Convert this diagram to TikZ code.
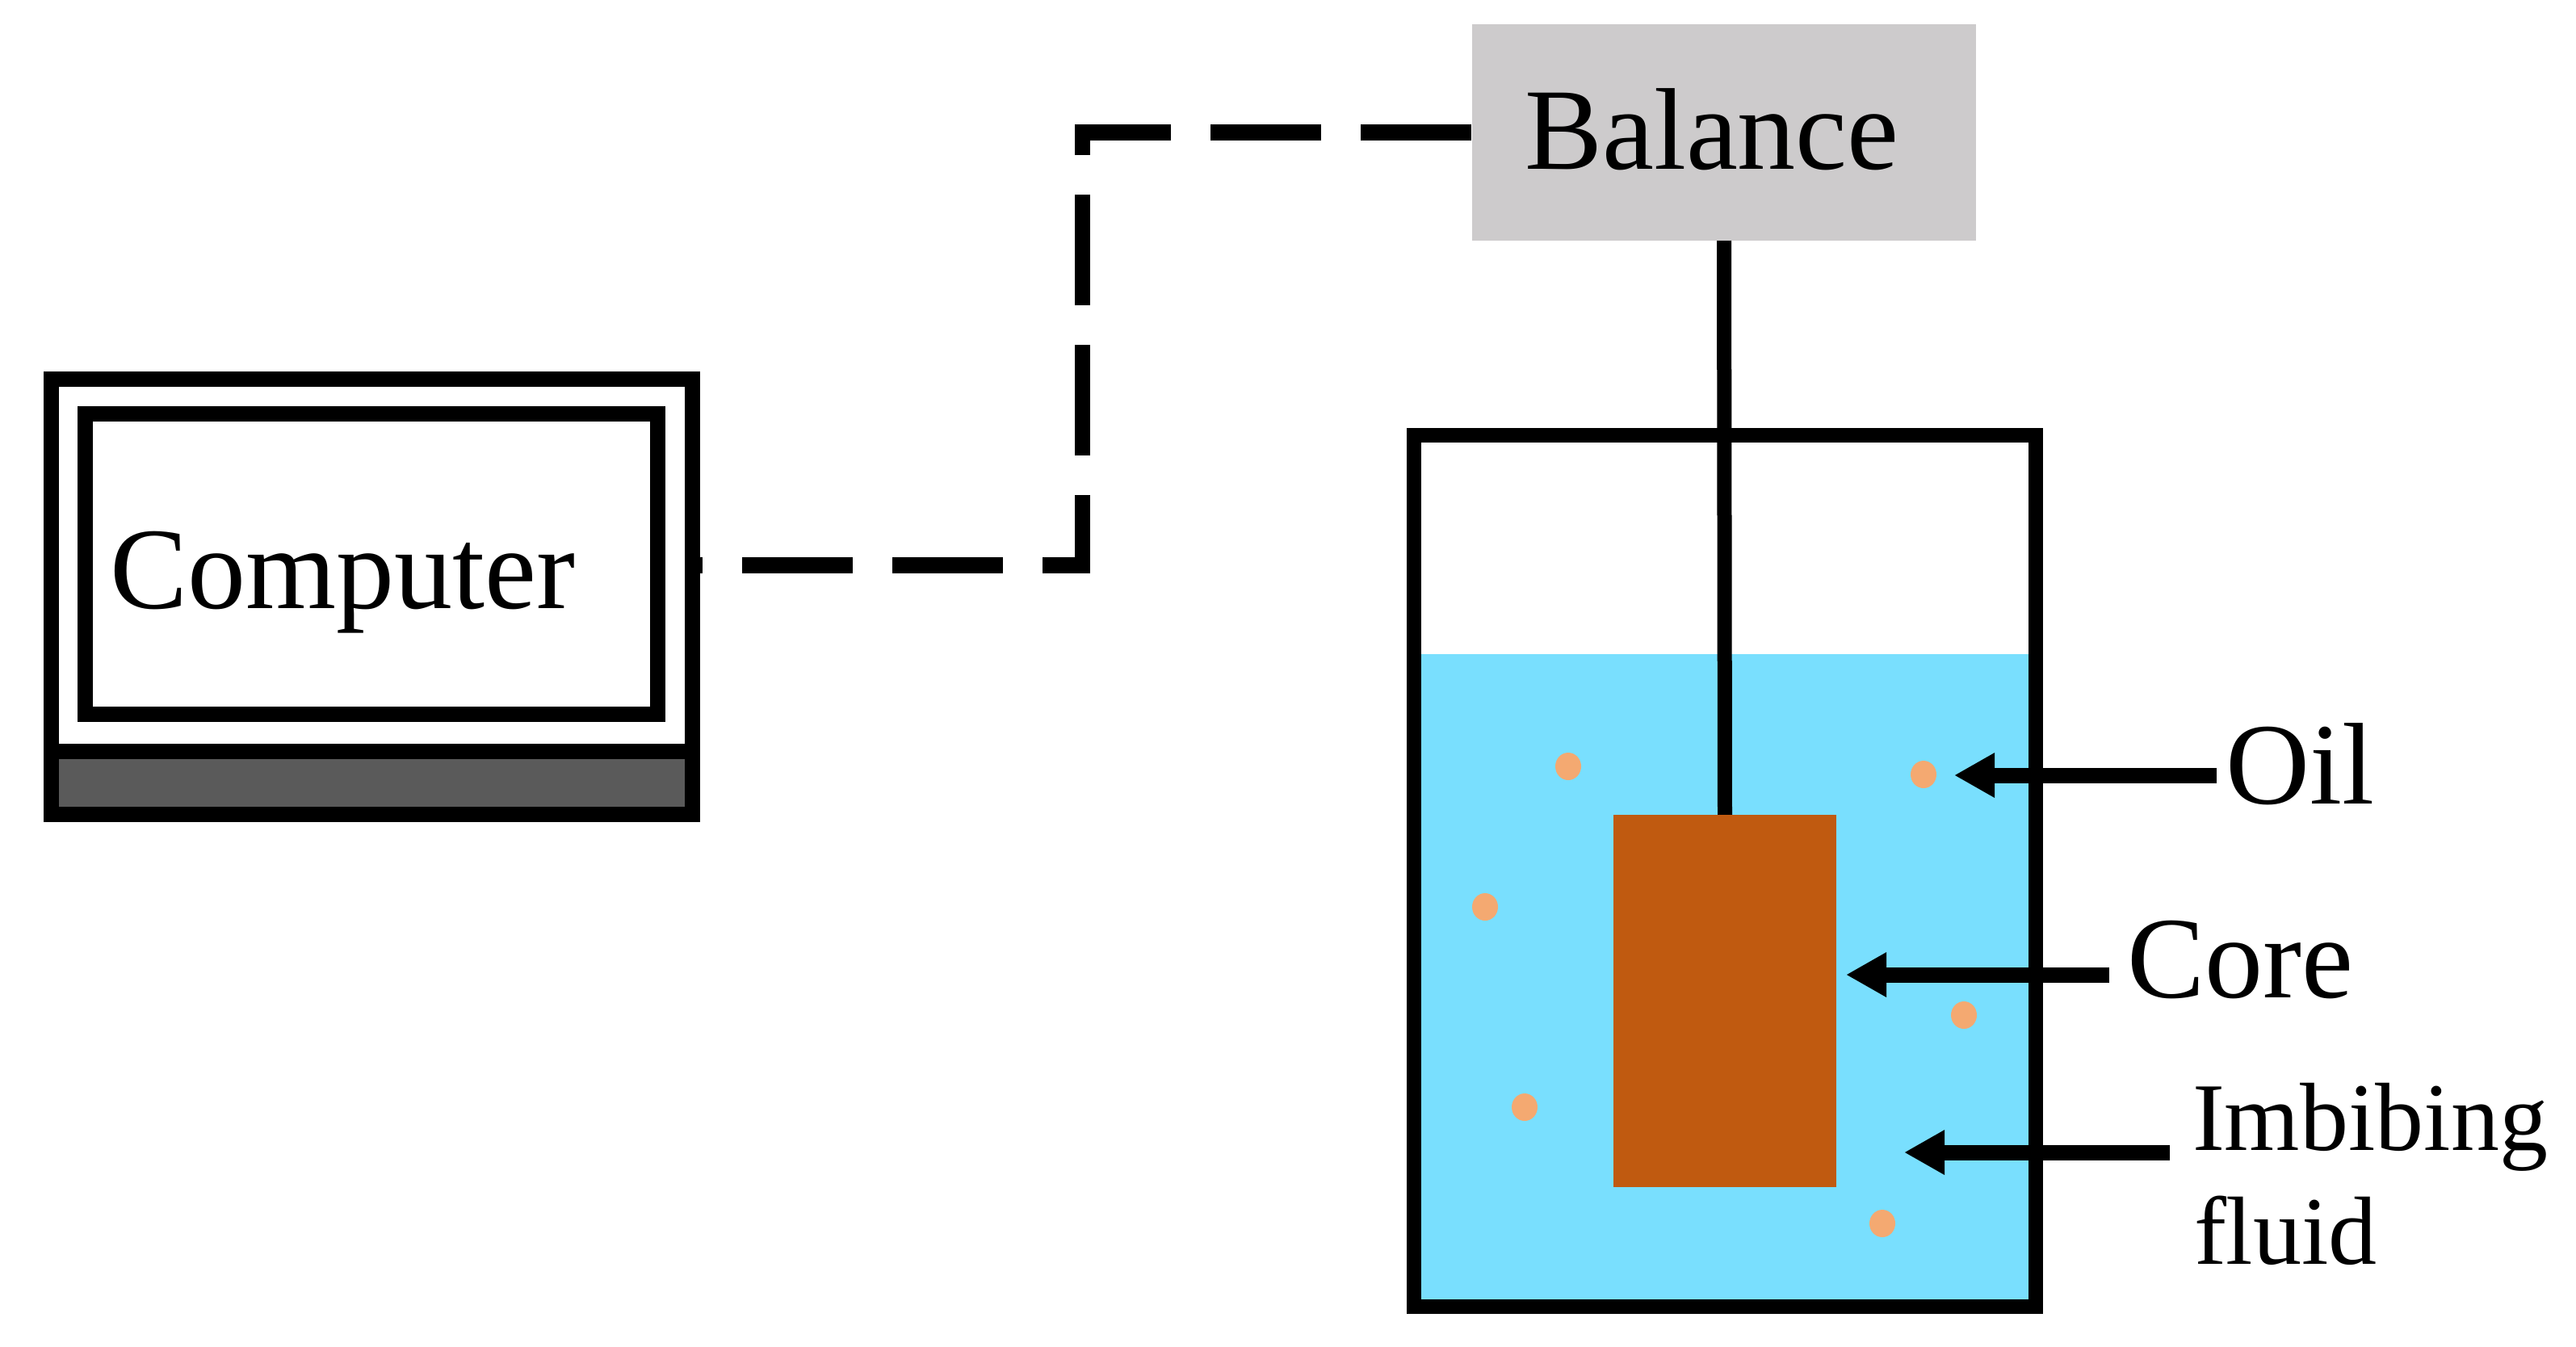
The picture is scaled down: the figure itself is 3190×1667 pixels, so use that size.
\documentclass[tikz,border=0pt]{standalone}
\usepackage{fontspec}
\setmainfont{Liberation Serif}
\usetikzlibrary{arrows.meta,shapes.geometric}
\definecolor{balgray}{HTML}{CDCBCC}
\definecolor{water}{HTML}{79DFFE}
\definecolor{corebrown}{HTML}{C05A10}
\definecolor{oildot}{HTML}{F4A971}
\definecolor{basegray}{HTML}{5A5A5A}
\tikzset{
  x=0.5pt,y=-0.5pt,
  frame/.style={draw=black,line width=9.5pt,fill=none,rectangle,minimum width=#1,inner sep=0pt,outer sep=0pt},
  bigtext/.style={font=\fontsize{72}{72}\selectfont,anchor=base west,inner sep=0pt,outer sep=0pt,text=black},
  smalltext/.style={font=\fontsize{60}{60}\selectfont,anchor=base west,inner sep=0pt,outer sep=0pt,text=black},
  pointer/.style={line width=9.5pt,-{Triangle[length=25pt,width=26pt]}},
  wire/.style={line width=9.5pt},
  datalink/.style={line width=9.7pt,dash pattern=on 68.5pt off 24.5pt,dash phase=57.5pt},
  droplet/.style={ellipse,fill=oildot,minimum width=16pt,minimum height=17pt,inner sep=0pt,outer sep=0pt},
}
\begin{document}
\begin{tikzpicture}
\useasboundingbox (0,0) rectangle (3190,1667);
% computer
\node[rectangle,fill=basegray,minimum width=397pt,minimum height=30.5pt,inner sep=0pt] (compbase) at (460,968.5) {};
\node[frame=397pt,minimum height=269.5pt] (computer) at (460,738.5) {};
\node[frame=354.5pt,minimum height=186pt] (screen) at (459.5,698) {};
\coordinate (divL) at (63,930);
\coordinate (divR) at (857,930);
\draw[wire] (divL) -- (divR);
\node[bigtext] (complabel) at (136,753) {Computer};
% balance
\node[rectangle,fill=balgray,minimum width=312pt,minimum height=134pt,inner sep=0pt,outer sep=0pt] (balance) at (2135,164) {};
\node[bigtext] (ballabel) at (1888,209) {Balance};
% link
\coordinate (linkstart) at (848,700);
\coordinate (corner1) at (1340.5,700);
\coordinate (corner2) at (1340.5,164);
\coordinate (linkend) at (balance.west |- corner2);
\draw[datalink] (linkstart) -- (corner1) -- (corner2) -- (linkend);
% beaker
\node[rectangle,fill=water,minimum width=393pt,minimum height=403pt,inner sep=0pt,outer sep=0pt] (fluid) at (2136,1213) {};
\coordinate (rodtop) at (balance.south);
\coordinate (rodbot) at (2136,1020);
\draw[line width=9pt] (rodtop) -- (rodbot);
\node[rectangle,fill=corebrown,minimum width=138pt,minimum height=230.5pt,inner sep=0pt,outer sep=0pt] (core) at (2136,1239.5) {};
\node[frame=385pt,minimum height=539.5pt,line width=9pt] (beaker) at (2136,1078) {};
% droplets
\node[droplet] (d1) at (1942,949) {};
\node[droplet] (d2) at (2382,959) {};
\node[droplet] (d3) at (1839,1123) {};
\node[droplet] (d4) at (2432,1257) {};
\node[droplet] (d5) at (1888,1371) {};
\node[droplet] (d6) at (2331,1515) {};
% labels
\node[bigtext] (oillabel) at (2756,995) {Oil};
\node[bigtext] (corelabel) at (2634,1235) {Core};
\node[smalltext] (imb1) at (2715,1424) {Imbibing};
\node[smalltext] (imb2) at (2717,1565) {fluid};
% arrows
\coordinate (oiltail) at (2745,960);
\coordinate (oiltip) at (2420,960);
\coordinate (coretail) at (2612,1207);
\coordinate (coretip) at (2286,1207);
\coordinate (imbtail) at (2687,1427);
\coordinate (imbtip) at (2358,1427);
\draw[pointer] (oiltail) -- (oiltip);
\draw[pointer] (coretail) -- (coretip);
\draw[pointer] (imbtail) -- (imbtip);
\end{tikzpicture}
\end{document}
